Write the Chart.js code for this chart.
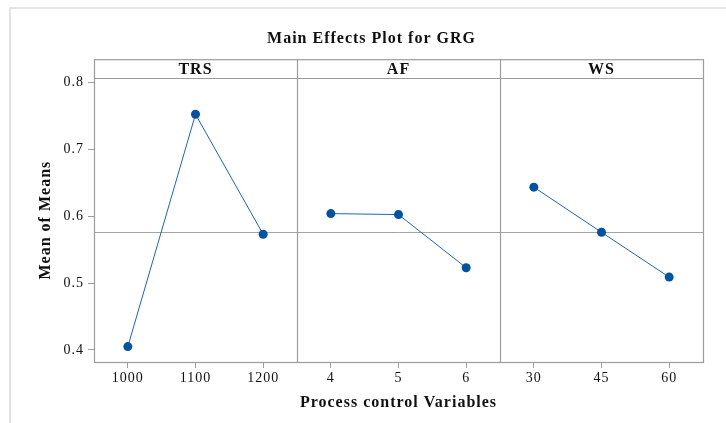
<!DOCTYPE html>
<html>
<head>
<meta charset="utf-8">
<script src="https://cdn.jsdelivr.net/npm/chart.js@4.4.0/dist/chart.umd.min.js"></script>
<style>
    body { margin: 0; background: #fff; }
    #wrap { position: relative; width: 726px; height: 423px; }
</style>
</head>
<body>
<div id="wrap"><canvas id="mainEffects"></canvas></div>
<script>
const factors = ["TRS", "AF", "WS"];
const levels = ["1000", "1100", "1200", "4", "5", "6", "30", "45", "60"];
const trsMeans = [0.405, 0.7525, 0.573];
const afMeans = [0.604, 0.6025, 0.523];
const wsMeans = [0.6435, 0.576, 0.509];
const meanGRG = 0.576;
const yTicks = [0.4, 0.5, 0.6, 0.7, 0.8];

const frameColor = "#9c9c9c";
const pointColor = "#0052a5";
const lineColor = "#1f63b5";
const serif = "'Liberation Serif', 'Times New Roman', serif";

// each factor gets its own dataset, padded with nulls so lines don't join across panels
padPanel = (vals, idx) => {
    const out = new Array(levels.length).fill(null);
    vals.forEach((v, i) => (out[idx * 3 + i] = v));
    return out;
};

const panelPlugin = {
    id: "panels",
    beforeDraw(chart) {
        const ctx = chart.ctx;
        ctx.letterSpacing = "1px";
        // faint outer window frame
        ctx.save();
        ctx.strokeStyle = "#e4e4e4";
        ctx.lineWidth = 2;
        ctx.beginPath();
        ctx.moveTo(10, chart.height);
        ctx.lineTo(10, 8);
        ctx.lineTo(chart.width, 8);
        ctx.stroke();
        ctx.restore();
    },
    beforeDatasetsDraw(chart) {
        const { ctx, chartArea: a, scales } = chart;
        const x = scales.x;
        const y = scales.y;
        const stripTop = a.top - 19;
        const bounds = [a.left];
        for (let i = 1; i < factors.length; i++) {
            bounds.push((x.getPixelForTick(i * 3 - 1) + x.getPixelForTick(i * 3)) / 2);
        }
        bounds.push(a.right);

        ctx.save();
        // reference line at overall mean
        const my = Math.round(y.getPixelForValue(meanGRG)) + 0.5;
        ctx.strokeStyle = "#a4a4a4";
        ctx.lineWidth = 1;
        ctx.beginPath();
        ctx.moveTo(a.left, my);
        ctx.lineTo(a.right, my);
        ctx.stroke();

        // panel frame + header strip
        ctx.strokeStyle = frameColor;
        ctx.lineWidth = 1.2;
        ctx.strokeRect(Math.round(a.left) + 0.5, stripTop + 0.5, Math.round(a.right - a.left), a.bottom - stripTop);
        ctx.beginPath();
        ctx.moveTo(a.left, Math.round(a.top) + 0.5);
        ctx.lineTo(a.right, Math.round(a.top) + 0.5);
        for (let i = 1; i < bounds.length - 1; i++) {
            const bx = Math.round(bounds[i]) + 0.5;
            ctx.moveTo(bx, stripTop);
            ctx.lineTo(bx, a.bottom);
        }
        ctx.stroke();

        ctx.fillStyle = "#111";
        ctx.font = "bold 16px " + serif;
        ctx.textAlign = "center";
        ctx.textBaseline = "middle";
        factors.forEach((f, i) => {
            ctx.fillText(f, (bounds[i] + bounds[i + 1]) / 2, (stripTop + a.top) / 2 + 1);
        });
        ctx.restore();
    },
};

const datasets = [trsMeans, afMeans, wsMeans].map((vals, i) => ({
    label: factors[i],
    data: padPanel(vals, i),
    borderColor: lineColor,
    borderWidth: 1,
    pointBackgroundColor: pointColor,
    pointBorderColor: pointColor,
    pointRadius: 4.5,
    pointBorderWidth: 0,
    spanGaps: false,
    tension: 0,
}));

const config = {
    type: "line",
    data: { labels: levels, datasets: datasets },
    options: {
        responsive: false,
        animation: false,
        layout: { padding: { left: 40, right: 23, top: 0, bottom: 11 } },
        plugins: {
            legend: { display: false },
            tooltip: { enabled: false },
            title: {
                display: true,
                text: "Main Effects Plot for GRG",
                color: "#111",
                font: { family: serif, size: 16, weight: "bold" },
                padding: { top: 29, bottom: 30 },
            },
        },
        scales: {
            x: {
                type: "category",
                offset: true,
                border: { display: false },
                grid: { drawOnChartArea: false, offset: false, tickLength: 6, color: frameColor },
                ticks: { color: "#111", padding: 2, font: { family: serif, size: 14 } },
                title: {
                    display: true,
                    text: "Process control Variables",
                    color: "#111",
                    font: { family: serif, size: 16, weight: "bold" },
                    padding: { top: 4, bottom: 0 },
                },
            },
            y: {
                min: 0.382,
                max: 0.8065,
                border: { display: false },
                grid: { drawOnChartArea: false, tickLength: 6, color: frameColor },
                afterBuildTicks: (scale) => {
                    scale.ticks = yTicks.map((v) => ({ value: v }));
                },
                afterFit: (scale) => {
                    scale.width = 54;
                },
                ticks: {
                    color: "#111",
                    padding: 4,
                    font: { family: serif, size: 14 },
                    callback: (v) => v.toFixed(1),
                },
                title: {
                    display: true,
                    text: "Mean of Means",
                    color: "#111",
                    font: { family: serif, size: 16, weight: "bold", lineHeight: 1 },
                    padding: { top: -2, bottom: 0 },
                },
            },
        },
    },
    plugins: [panelPlugin],
};

const canvas = document.getElementById("mainEffects");
canvas.width = 726;
canvas.height = 423;
const effectsChart = new Chart(canvas, config);
</script>
</body>
</html>
